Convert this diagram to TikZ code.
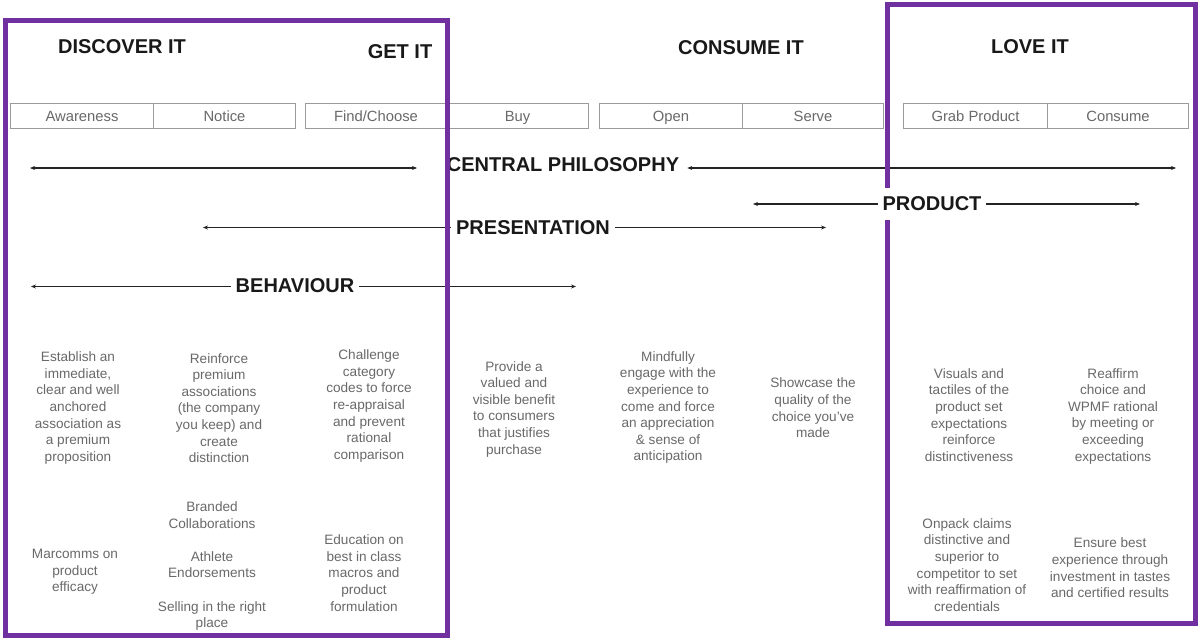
\documentclass[tikz,border=0pt]{standalone}
\usepackage{fontspec}
\setmainfont{Liberation Sans}
\usetikzlibrary{arrows.meta}
\definecolor{purp}{RGB}{112,48,160}
\definecolor{txtgray}{RGB}{105,105,105}
\definecolor{cellgray}{RGB}{155,155,155}
\definecolor{arrgray}{RGB}{35,35,35}
\begin{document}
\begin{tikzpicture}[x=1pt,y=-1pt,
  cell/.style={draw=cellgray, line width=1pt, minimum height=25pt, inner sep=0pt, text height=12pt, text depth=0pt, text=txtgray, font=\fontsize{14.8}{16}\selectfont, anchor=west},
  head/.style={font=\fontsize{20}{22}\selectfont\bfseries, text=black!90, inner sep=0pt},
  lab/.style={font=\fontsize{20}{22}\selectfont\bfseries, text=black!90, inner xsep=5pt, inner ysep=0pt},
  body/.style={align=center, text=txtgray, font=\fontsize{13.6}{16.6}\selectfont, inner sep=0pt},
  tipline/.style={draw=arrgray, line width=1.3pt},
  tipboth/.style={tipline, {Stealth[length=5pt,width=4pt]}-{Stealth[length=5pt,width=4pt]}},
  tipleft/.style={tipline, {Stealth[length=5pt,width=4pt]}-},
  tipright/.style={tipline, -{Stealth[length=5pt,width=4pt]}},
  box/.style={draw=purp, line width=5pt}
]
\fill[white] (0,0) rectangle (1198,640);
\useasboundingbox (0,0) rectangle (1198,640);

% stage cells
\node[cell, minimum width=143pt] (aw) at (10,115.5) {Awareness};
\node[cell, minimum width=142pt] (no) at (153,115.5) {Notice};
\node[cell, minimum width=141pt] (fc) at (305,115.5) {Find/Choose};
\node[cell, minimum width=142pt] (buy) at (446,115.5) {Buy};
\node[cell, minimum width=143pt] (op) at (599,115.5) {Open};
\node[cell, minimum width=141pt] (sv) at (742,115.5) {Serve};
\node[cell, minimum width=144pt] (gp) at (903,115.5) {Grab Product};
\node[cell, minimum width=141pt] (cs) at (1047,115.5) {Consume};

% headers
\node[head] (h1) at (122,47) {DISCOVER IT};
\node[head] (h2) at (400,52) {GET IT};
\node[head] (h3) at (741,47.5) {CONSUME IT};
\node[head] (h4) at (1030,47) {LOVE IT};

% central philosophy
\node[lab] (cp) at (563,165) {CENTRAL PHILOSOPHY};
\coordinate (cpa) at (30,168);
\coordinate (cpb) at (417,168);
\coordinate (cpd) at (1176,168);
\draw[tipboth] (cpa) -- (cpb);
\draw[tipboth] ([xshift=3pt]cp.east |- cpd) -- (cpd);

% presentation
\node[lab] (pres) at (533,227.5) {PRESENTATION};
\coordinate (presL) at (203,227.5);
\coordinate (presR) at (826,227.5);
\draw[tipleft] (presL) -- (pres.west);
\draw[tipright] (pres.east) -- (presR);

% behaviour
\node[lab] (beh) at (295,286) {BEHAVIOUR};
\coordinate (behL) at (31,286.5);
\coordinate (behR) at (576,286.5);
\draw[tipleft] (behL) -- (beh.west |- behL);
\draw[tipright] (beh.east |- behR) -- (behR);

% right purple box
\draw[box] (887.5,4.5) rectangle (1195.5,623.5);

% product
\node[lab, fill=white, inner ysep=9pt, inner xsep=4.5pt] (prod) at (932,204) {PRODUCT};
\coordinate (prodL) at (753,204);
\coordinate (prodR) at (1140,204);
\draw[tipleft] (prodL) -- (prod.west);
\draw[tipright] (prod.east) -- (prodR);

% left purple box
\draw[box] (5.5,20.5) rectangle (447.5,635.5);

% body texts
\node[body] (b1) at (78,408) {Establish an\\immediate,\\clear and well\\anchored\\association as\\a premium\\proposition};
\node[body] (b2) at (219,408) {Reinforce\\premium\\associations\\(the company\\you keep) and\\create\\distinction};
\node[body] (b3) at (369,406) {Challenge\\category\\codes to force\\re-appraisal\\and prevent\\rational\\comparison};
\node[body] (b4) at (514,409) {Provide a\\valued and\\visible benefit\\to consumers\\that justifies\\purchase};
\node[body] (b5) at (668,407.5) {Mindfully\\engage with the\\experience to\\come and force\\an appreciation\\\& sense of\\anticipation};
\node[body] (b6) at (813,408) {Showcase the\\quality of the\\choice you’ve\\made};
\node[body] (b7) at (969,415) {Visuals and\\tactiles of the\\product set\\expectations\\reinforce\\distinctiveness};
\node[body] (b8) at (1113,416) {Reaffirm\\choice and\\WPMF rational\\by meeting or\\exceeding\\expectations};

\node[body] (b9) at (75,572) {Marcomms on\\product\\efficacy};
\node[body] (b10) at (212,566) {Branded\\Collaborations\\[16.6pt]Athlete\\Endorsements\\[16.6pt]Selling in the right\\place};
\node[body] (b11) at (364,573) {Education on\\best in class\\macros and\\product\\formulation};
\node[body] (b12) at (967,565) {Onpack claims\\distinctive and\\superior to\\competitor to set\\with reaffirmation of\\credentials};
\node[body] (b13) at (1110,568) {Ensure best\\experience through\\investment in tastes\\and certified results};
\end{tikzpicture}
\end{document}
